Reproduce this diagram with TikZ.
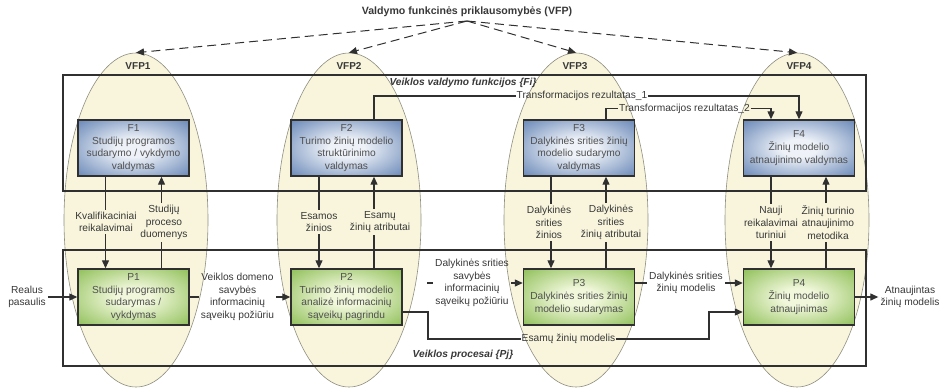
\documentclass[tikz,border=0pt]{standalone}
\usepackage{fontspec}
\setmainfont{Liberation Sans}
\usetikzlibrary{arrows.meta,shapes.geometric}
\definecolor{ellfill}{HTML}{F8F5DC}
\definecolor{elldraw}{HTML}{8E8E80}
\definecolor{ln}{HTML}{303030}
\definecolor{fout}{HTML}{4A6FA8}
\definecolor{fin}{HTML}{EEF2F8}
\definecolor{pout}{HTML}{7AB33C}
\definecolor{pin}{HTML}{F0F7DA}
\definecolor{txt}{HTML}{383838}
\definecolor{btxt}{HTML}{505050}
\pgfdeclareradialshading{fshade}{\pgfpoint{0bp}{0bp}}{color(0bp)=(fin); color(8bp)=(fin); color(42bp)=(fout); color(80bp)=(fout)}
\pgfdeclareradialshading{pshade}{\pgfpoint{0bp}{0bp}}{color(0bp)=(pin); color(8bp)=(pin); color(42bp)=(pout); color(80bp)=(pout)}
\newcommand\lblfont{\fontsize{10.2}{12.7}\selectfont}
\begin{document}
\begin{tikzpicture}[x=1pt,y=-1pt,
  ellnode/.style={ellipse, draw=elldraw, line width=0.6pt, fill=ellfill, minimum width=144pt, minimum height=334pt, inner sep=0pt},
  fbox/.style={draw=ln, line width=1.4pt, shade, shading=fshade, minimum width=111pt, minimum height=56pt, inner sep=0pt, align=center, text=btxt, font=\lblfont},
  pbox/.style={fbox, shading=pshade},
  lbl/.style={align=center, text=txt, font=\lblfont, inner sep=2pt},
  conn/.style={draw=ln, line width=1.2pt},
  arr/.style={conn, -{Triangle[length=8pt,width=7pt]}},
  dasharr/.style={draw=ln, line width=1pt, dash pattern=on 9pt off 5pt, -{Triangle[length=8pt,width=7pt]}},
  frame/.style={draw=ln, line width=1.5pt, inner sep=0pt},
  vfp/.style={font=\fontsize{10}{11}\selectfont\bfseries, text=txt},
  grp/.style={font=\fontsize{10.2}{11}\selectfont\bfseries\itshape, text=txt}]
\useasboundingbox (0,0) rectangle (944,388);

% ellipses
\node[ellnode] (E1) at (136,220) {};
\node[ellnode] (E2) at (349,220) {};
\node[ellnode] (E3) at (576,220) {};
\node[ellnode] (E4) at (797,220) {};

% frames
\node[frame, minimum width=803pt, minimum height=116pt] (RF) at (464.5,133) {};
\node[frame, minimum width=803pt, minimum height=116pt] (RP) at (464.5,308) {};
\node[grp] (gF) at (463,83) {Veiklos valdymo funkcijos \{Fi\}};
\node[grp] (gP) at (463,355) {Veiklos procesai \{Pj\}};

% title and VFP
\node[font=\fontsize{10.6}{12}\selectfont\bfseries, text=txt] (T) at (467,12) {Valdymo funkcinės priklausomybės (VFP)};
\coordinate (src) at (467,21);
\foreach \i in {1,...,4} \draw[dasharr] (src) -- (E\i.north);
\node[vfp] (V1) at (138,66) {VFP1};
\node[vfp] (V2) at (349,66) {VFP2};
\node[vfp] (V3) at (575,66) {VFP3};
\node[vfp] (V4) at (799,66) {VFP4};

% boxes
\node[fbox] (F1) at (133.5,148) {F1\\Studijų programos\\sudarymo / vykdymo\\valdymas};
\node[fbox] (F2) at (346.5,148) {F2\\Turimo žinių modelio\\struktūrinimo\\valdymas};
\node[fbox] (F3) at (579,148) {F3\\Dalykinės srities žinių\\modelio sudarymo\\valdymas};
\node[fbox] (F4) at (799,148) {F4\\Žinių modelio\\atnaujinimo valdymas};
\node[pbox] (P1) at (133.5,297) {P1\\Studijų programos\\sudarymas /\\vykdymas};
\node[pbox] (P2) at (346.5,297) {P2\\Turimo žinių modelio\\analizė informacinių\\sąveikų pagrindu};
\node[pbox] (P3) at (579,297) {P3\\Dalykinės srities žinių\\modelio sudarymas};
\node[pbox] (P4) at (799,297) {P4\\Žinių modelio\\atnaujinimas};

% vertical labels
\node[lbl] (kv) at (106,222) {Kvalifikaciniai\\reikalavimai};
\node[lbl] (sp) at (164,222.5) {Studijų\\proceso\\duomenys};
\node[lbl] (es) at (319,222) {Esamos\\žinios};
\node[lbl] (ea) at (380,222) {Esamų\\žinių atributai};
\node[lbl] (dz) at (549,222.5) {Dalykinės\\srities\\žinios};
\node[lbl] (da) at (611,222.5) {Dalykinės\\srities\\žinių atributai};
\node[lbl] (nr) at (771,222.5) {Nauji\\reikalavimai\\turiniui};
\node[lbl] (zt) at (828,222.5) {Žinių turinio\\atnaujinimo\\metodika};

\coordinate (a1) at ([xshift=-28pt]F1.south);
\coordinate (b1) at ([xshift=28pt]F1.south);
\coordinate (a2) at ([xshift=-27.5pt]F2.south);
\coordinate (b2) at ([xshift=27.5pt]F2.south);
\coordinate (a3) at ([xshift=-28pt]F3.south);
\coordinate (b3) at ([xshift=27pt]F3.south);
\coordinate (a4) at ([xshift=-28pt]F4.south);
\coordinate (b4) at ([xshift=27pt]F4.south);

\draw[conn] (a1) -- (a1 |- kv.north); \draw[arr] (a1 |- kv.south) -- (a1 |- P1.north);
\draw[conn] (b1 |- P1.north) -- (b1 |- sp.south); \draw[arr] (b1 |- sp.north) -- (b1);
\draw[conn] (a2) -- (a2 |- es.north); \draw[arr] (a2 |- es.south) -- (a2 |- P2.north);
\draw[conn] (b2 |- P2.north) -- (b2 |- ea.south); \draw[arr] (b2 |- ea.north) -- (b2);
\draw[conn] (a3) -- (a3 |- dz.north); \draw[arr] (a3 |- dz.south) -- (a3 |- P3.north);
\draw[conn] (b3 |- P3.north) -- (b3 |- da.south); \draw[arr] (b3 |- da.north) -- (b3);
\draw[conn] (a4) -- (a4 |- nr.north); \draw[arr] (a4 |- nr.south) -- (a4 |- P4.north);
\draw[conn] (b4 |- P4.north) -- (b4 |- zt.south); \draw[arr] (b4 |- zt.north) -- (b4);

% top transformation connectors
\node[lbl, inner sep=1pt] (t1) at (582,96) {Transformacijos rezultatas\_1};
\node[lbl, inner sep=1pt] (t2) at (684.5,108.5) {Transformacijos rezultatas\_2};
\coordinate (t1s) at ([xshift=27.5pt]F2.north);
\coordinate (t2s) at ([xshift=27pt]F3.north);
\coordinate (t2e) at ([xshift=-28pt]F4.north);
\draw[conn] (t1s) -- (t1s |- t1) -- (t1.west);
\draw[arr] (t1.east) -- (F4.north |- t1) -- (F4.north);
\draw[conn] (t2s) -- (t2s |- t2) -- (t2.west);
\draw[arr] (t2.east) -- (t2e |- t2) -- (t2e);

% horizontal process connectors
\node[lbl] (rp) at (27,297) {Realus\\pasaulis};
\draw[arr] (rp.east) -- (P1.west);
\node[lbl] (vd) at (237.5,297) {Veiklos domeno\\savybės\\informacinių\\sąveikų požiūriu};
\draw[conn] (P1.east) -- (vd.west);
\draw[arr] (vd.east) -- (P2.west);
\node[lbl] (ds) at (472,283) {Dalykinės srities\\savybės\\informacinių\\sąveikų požiūriu};
\draw[conn] (ds.west) -- ++(-6,0);
\draw[arr] (ds.east) -- (ds.east -| P3.west);
\node[lbl] (dm) at (686,283) {Dalykinės srities\\žinių modelis};
\draw[conn] (P3.east |- dm) -- (dm.west);
\draw[arr] (dm.east) -- (dm.east -| P4.west);
\node[lbl] (out) at (910,297) {Atnaujintas\\žinių modelis};
\draw[arr] (P4.east) -- (out.west);
\node[lbl, inner sep=1pt] (em) at (568.5,339) {Esamų žinių modelis};
\coordinate (e1) at (428,312);
\coordinate (e2) at (709,312);
\draw[conn] (P2.east |- e1) -- (e1) -- (e1 |- em) -- (em.west);
\draw[arr] (em.east) -- (e2 |- em) -- (e2) -- (P4.west |- e2);
\end{tikzpicture}
\end{document}
